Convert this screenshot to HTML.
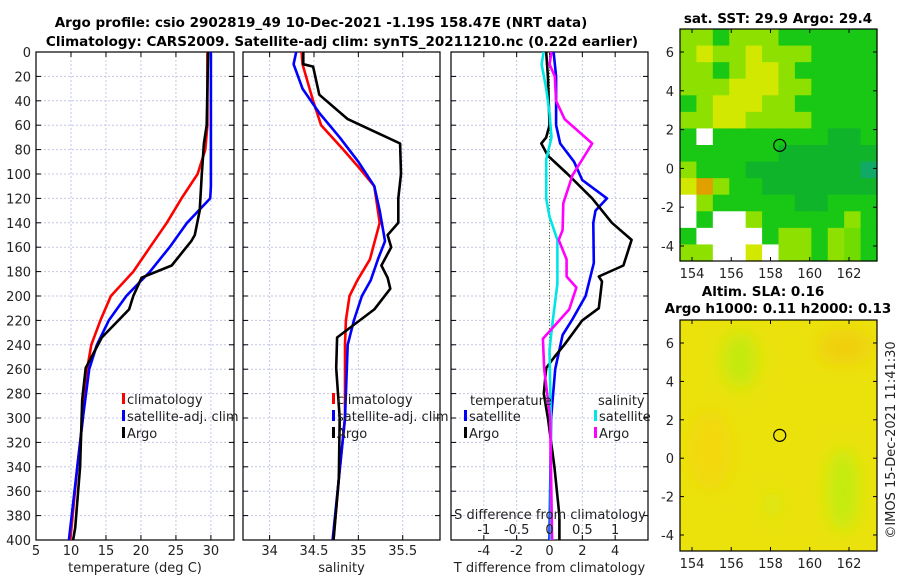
<!DOCTYPE html>
<html><head><meta charset="utf-8">
<style>
html,body{margin:0;padding:0;background:#fff;}
svg{display:block;font-family:"DejaVu Sans","Liberation Sans",sans-serif;}
.t{font-size:13px;fill:#222;}
.b{font-size:13.5px;font-weight:bold;fill:#000;}
</style></head>
<body>
<svg id="chart" width="900" height="580" viewBox="0 0 900 580" xmlns="http://www.w3.org/2000/svg">
<defs><filter id="blur" x="-50%" y="-50%" width="200%" height="200%"><feGaussianBlur stdDeviation="9"/></filter>
<clipPath id="clipSla"><rect x="680" y="320" width="197" height="231"/></clipPath></defs>
<text class="b" x="321" y="27" text-anchor="middle">Argo profile: csio 2902819_49 10-Dec-2021 -1.19S 158.47E (NRT data)</text>
<text class="b" x="342" y="46" text-anchor="middle">Climatology: CARS2009. Satellite-adj clim: synTS_20211210.nc (0.22d earlier)</text>
<text class="b" x="778" y="23" text-anchor="middle">sat. SST: 29.9 Argo: 29.4</text>
<text class="b" x="763" y="296" text-anchor="middle">Altim. SLA: 0.16</text>
<text class="b" x="778" y="313" text-anchor="middle">Argo h1000: 0.11 h2000: 0.13</text>
<text class="t" x="0" y="0" text-anchor="middle" transform="translate(895,440) rotate(-90)">©IMOS 15-Dec-2021 11:41:30</text>
<g id="plots"></g>
</svg>
<script>
// ---- data ----
const depthTicks = [0,20,40,60,80,100,120,140,160,180,200,220,240,260,280,300,320,340,360,380,400];
const tempTicks = [5,10,15,20,25,30];
const salTicks = [34,34.5,35,35.5];
const salTickLabels = ["34","34.5","35","35.5"];
const dtTicks = [-4,-2,0,2,4];
const dsTicks = [-1,-0.5,0,0.5,1];
const dsTickLabels = ["-1","-0.5","0","0.5","1"];

const tClimD = [0,60,80,100,120,140,160,180,200,220,240,260,300,340,400];
const tClim = [29.5,29.5,29.2,28.1,25.8,23.7,21.3,18.9,15.7,14.2,12.9,12.3,11.7,10.9,9.9];
const tSatD = [0,110,120,140,160,180,200,220,240,260,300,400];
const tSat = [30.0,30.0,29.9,26.6,24.1,21.3,17.9,15.4,13.7,12.6,11.7,9.7];
const tArgoD = [0,60,75,100,130,150,155,175,185,200,211,234,259,285,340,390,400];
const tArgo = [29.6,29.4,29.0,28.7,28.4,27.7,27.2,24.4,20.1,18.9,18.3,14.4,12.1,11.6,11.3,10.6,10.3];

const sClimD = [0,10,40,60,80,95,110,140,170,187,200,220,240,300,350,400];
const sClim = [34.36,34.37,34.49,34.58,34.83,35.01,35.18,35.24,35.13,34.99,34.9,34.86,34.85,34.85,34.78,34.72];
const sSatD = [0,10,30,50,70,90,110,130,155,170,187,200,220,240,260,300,350,400];
const sSat = [34.30,34.27,34.37,34.56,34.79,35.0,35.18,35.24,35.30,35.22,35.14,35.04,34.95,34.88,34.87,34.85,34.78,34.71];
const sArgoD = [0,10,12,35,55,75,100,120,140,150,160,175,185,194,211,234,259,300,350,400];
const sArgo = [34.38,34.38,34.49,34.56,34.88,35.47,35.48,35.45,35.45,35.33,35.37,35.26,35.33,35.36,35.18,34.76,34.75,34.79,34.78,34.72];

const dTSatD = [0,20,60,75,90,105,120,130,140,173,200,219,232,260,300,400];
const dTSat = [0.25,0.4,0.4,0.65,1.5,2.0,3.5,2.8,2.67,2.7,2.2,1.4,0.8,0.35,0.1,0];
const dTArgoD = [0,20,60,70,75,85,100,120,140,154,175,184,188,210,220,240,250,259,280,300,340,380,400];
const dTArgo = [-0.2,-0.1,0,-0.2,-0.5,-0.1,1.1,2.6,3.8,5.0,4.5,3.0,3.2,3.0,2.0,0.9,0.3,-0.2,-0.35,-0.1,0.3,0.6,0.6];
const dSSatD = [0,10,30,50,70,88,120,135,154,190,220,244,300,400];
const dSSat = [-0.09,-0.12,-0.05,0,0.03,-0.05,-0.05,0,0.12,0.12,0.05,0.0,0.02,0.02];
const dSArgoD = [0,10,20,40,55,75,101,124,146,154,170,184,193,211,235,260,300,400];
const dSArgo = [0.03,0,0.08,0.1,0.23,0.65,0.35,0.21,0.2,0.14,0.26,0.26,0.41,0.3,-0.1,-0.08,0.01,0.04];

const lonTicks = [154,156,158,160,162];
const latTicks = [6,4,2,0,-2,-4];
const argoLon = 158.47, argoLat = 1.19;
const sstGrid = [
"llglllgggggg","lyllylllgggg","llglyylggggg","lllyyyllgggg","glyyyllggggg","llyyllllgggg",
"gwgggggggddg","ggggggdddddd","lgggdddddddt","yolggddddddd","wlgggggddggg","wgwwlggggglg",
"gwwwwgllglLg","llwwywllglLg"];
const sstColors = {w:"#ffffff",y:"#d2e800",l:"#8ee000",L:"#70dc00",g:"#18c814",d:"#10b42a",t:"#10aa66",o:"#e0a000"};

// ---- helpers ----
const NS = "http://www.w3.org/2000/svg";
const root = document.getElementById("plots");
function mk(tag, attrs, parent){ const e=document.createElementNS(NS,tag); for(const k in attrs) e.setAttribute(k,attrs[k]); (parent||root).appendChild(e); return e; }
const Y0 = 52, Y1 = 540;
function yD(d){ return Y0 + (d/400)*(Y1-Y0); }
function xLin(lo,hi,x0,x1){ return v => x0 + (v-lo)/(hi-lo)*(x1-x0); }
const xT = xLin(5,33.3,36,234);
const xS = xLin(33.7,35.92,243,440);
const xDT = xLin(-6,6,451,648);
const xDS = xLin(-1.5,1.5,451,648);

function panel(name,x0,x1,xticks,xf,labels,xlabel,showDepth){
  const g = mk("g",{});
  
  
  depthTicks.forEach(d=>{ const y=yD(d);
    const gl=mk("line",{x1:x0,x2:x1,y1:y,y2:y,stroke:"#c4c8e6","stroke-width":1,"stroke-dasharray":"2,2"},g);
     
    mk("line",{x1:x0,x2:x0+5,y1:y,y2:y,stroke:"#000"},g);
    mk("line",{x1:x1-5,x2:x1,y1:y,y2:y,stroke:"#000"},g);
    if(showDepth){ const t=mk("text",{x:x0-5,y:y+5,"text-anchor":"end",class:"t"},g); t.textContent=d;
        }
  });
  xticks.forEach((v,i)=>{ const x=xf(v);
    const gl=mk("line",{x1:x,x2:x,y1:Y0,y2:Y1,stroke:"#c4c8e6","stroke-width":1,"stroke-dasharray":"2,2"},g);
     
    mk("line",{x1:x,x2:x,y1:Y1-5,y2:Y1,stroke:"#000"},g);
    mk("line",{x1:x,x2:x,y1:Y0,y2:Y0+5,stroke:"#000"},g);
    const t=mk("text",{x:x,y:555,"text-anchor":"middle",class:"t"},g); t.textContent=labels?labels[i]:v;
     
  });
  mk("rect",{x:x0,y:Y0,width:x1-x0,height:Y1-Y0,fill:"none",stroke:"#000","stroke-width":1.2},g);
  const xl=mk("text",{x:(x0+x1)/2,y:572,"text-anchor":"middle",class:"t"},g); xl.textContent=xlabel;
   
  return g;
}
function series(name,vals,depths,xf,color,dash){
  const pts = vals.map((v,i)=>xf(v).toFixed(1)+","+yD(depths[i]).toFixed(1)).join(" ");
  const p = mk("polyline",{points:pts,fill:"none",stroke:color,"stroke-width":dash?1:2.6,"stroke-linejoin":"round"});
  if(dash) p.setAttribute("stroke-dasharray","1,2");
  
  
}
function legendEntry(name,x,y,color,label){
  const m=mk("rect",{x:x,y:y-8,width:3,height:11,fill:color});
  
  
  const t=mk("text",{x:x+5,y:y+3,class:"t"}); t.textContent=label;
  
  
}
function txt(name,x,y,s,anchor){ const t=mk("text",{x:x,y:y,class:"t","text-anchor":anchor||"start"}); t.textContent=s;
    }

// ---- temperature panel ----
panel("temperature-panel",36,234,tempTicks,xT,null,"temperature (deg C)",true);
series("temp-climatology-line",tClim,tClimD,xT,"#ff0000");
series("temp-satellite-line",tSat,tSatD,xT,"#0000ff");
series("temp-argo-line",tArgo,tArgoD,xT,"#000000");
legendEntry("legend-climatology",122,401,"#ff0000","climatology");
legendEntry("legend-satellite-adj",122,418,"#0000ff","satellite-adj. clim");
legendEntry("legend-argo",122,435,"#000000","Argo");

// ---- salinity panel ----
panel("salinity-panel",243,440,salTicks,xS,salTickLabels,"salinity",false);
series("sal-climatology-line",sClim,sClimD,xS,"#ff0000");
series("sal-satellite-line",sSat,sSatD,xS,"#0000ff");
series("sal-argo-line",sArgo,sArgoD,xS,"#000000");
legendEntry("legend-sal-climatology",332,401,"#ff0000","climatology");
legendEntry("legend-sal-satellite-adj",332,418,"#0000ff","satellite-adj. clim");
legendEntry("legend-sal-argo",332,435,"#000000","Argo");

// ---- difference panel ----
panel("difference-panel",451,648,dtTicks,xDT,null,"T difference from climatology",false);
series("zero-line",[0,0],[0,240],xDT,"#556633",true);
series("dT-satellite-line",dTSat,dTSatD,xDT,"#0000ff");
series("dT-argo-line",dTArgo,dTArgoD,xDT,"#000000");
series("dS-satellite-line",dSSat,dSSatD,xDS,"#00e6e6");
series("dS-argo-line",dSArgo,dSArgoD,xDS,"#ff00ff");
txt("legend-temperature-heading",470,405,"temperature");
txt("legend-salinity-heading",598,405,"salinity");
legendEntry("legend-dT-satellite",464,418,"#0000ff","satellite");
legendEntry("legend-dT-argo",464,435,"#000000","Argo");
legendEntry("legend-dS-satellite",594,418,"#00e6e6","satellite");
legendEntry("legend-dS-argo",594,435,"#ff00ff","Argo");
txt("s-diff-axis-title",550,519,"S difference from climatology","middle");
dsTicks.forEach((v,i)=>{ txt("s-diff-tick-label",xDS(v),534,dsTickLabels[i],"middle"); });

// ---- maps ----
function mapAxes(name,x0,x1,y0,y1,lat6,latm4){
  const g=mk("g",{});
  
  
  const lx = xLin(154,162,692,849), ly = xLin(6,-4,lat6,latm4);
  lonTicks.forEach(v=>{ const x=lx(v);
    mk("line",{x1:x,x2:x,y1:y1-4,y2:y1,stroke:"#000"},g); mk("line",{x1:x,x2:x,y1:y0,y2:y0+4,stroke:"#000"},g);
    const t=mk("text",{x:x,y:y1+17,"text-anchor":"middle",class:"t"},g); t.textContent=v;
      });
  latTicks.forEach(v=>{ const y=ly(v);
    mk("line",{x1:x0,x2:x0+4,y1:y,y2:y,stroke:"#000"},g); mk("line",{x1:x1-4,x2:x1,y1:y,y2:y,stroke:"#000"},g);
    const t=mk("text",{x:x0-6,y:y+5,"text-anchor":"end",class:"t"},g); t.textContent=v;
      });
  mk("rect",{x:x0,y:y0,width:x1-x0,height:y1-y0,fill:"none",stroke:"#000","stroke-width":1.2},g);
  const c=mk("circle",{cx:lx(argoLon),cy:ly(argoLat),r:6,fill:"none",stroke:"#000","stroke-width":1.2},g);
   
}
// SST heatmap
const mx0=680,mx1=877,my0=29,my1=261;
const nR=sstGrid.length, nC=sstGrid[0].length;
const cw=(mx1-mx0)/nC, ch=(my1-my0)/nR;
sstGrid.forEach((row,r)=>{ for(let c=0;c<nC;c++){
  const cell=mk("rect",{x:(mx0+c*cw).toFixed(2),y:(my0+r*ch).toFixed(2),width:(cw+0.6).toFixed(2),height:(ch+0.6).toFixed(2),fill:sstColors[row[c]]});
  
  
}});
mapAxes("sst-map",680,877,29,261,52,246);
// SLA map
const sla=mk("g",{"clip-path":"url(#clipSla)"});


mk("rect",{x:680,y:320,width:197,height:231,fill:"#ebe20c"},sla);
mk("ellipse",{cx:740,cy:360,rx:18,ry:28,fill:"#c2ea10",filter:"url(#blur)"},sla);
mk("ellipse",{cx:845,cy:347,rx:28,ry:18,fill:"#f0cf10",filter:"url(#blur)"},sla);
mk("ellipse",{cx:843,cy:490,rx:16,ry:42,fill:"#c2ec10",filter:"url(#blur)"},sla);
mk("ellipse",{cx:710,cy:450,rx:22,ry:40,fill:"#f2d80c",filter:"url(#blur)"},sla);
mk("ellipse",{cx:773,cy:505,rx:10,ry:14,fill:"#d8e80e",filter:"url(#blur)"},sla);
mapAxes("sla-map",680,877,320,551,343,535);
</script>
</body></html>
